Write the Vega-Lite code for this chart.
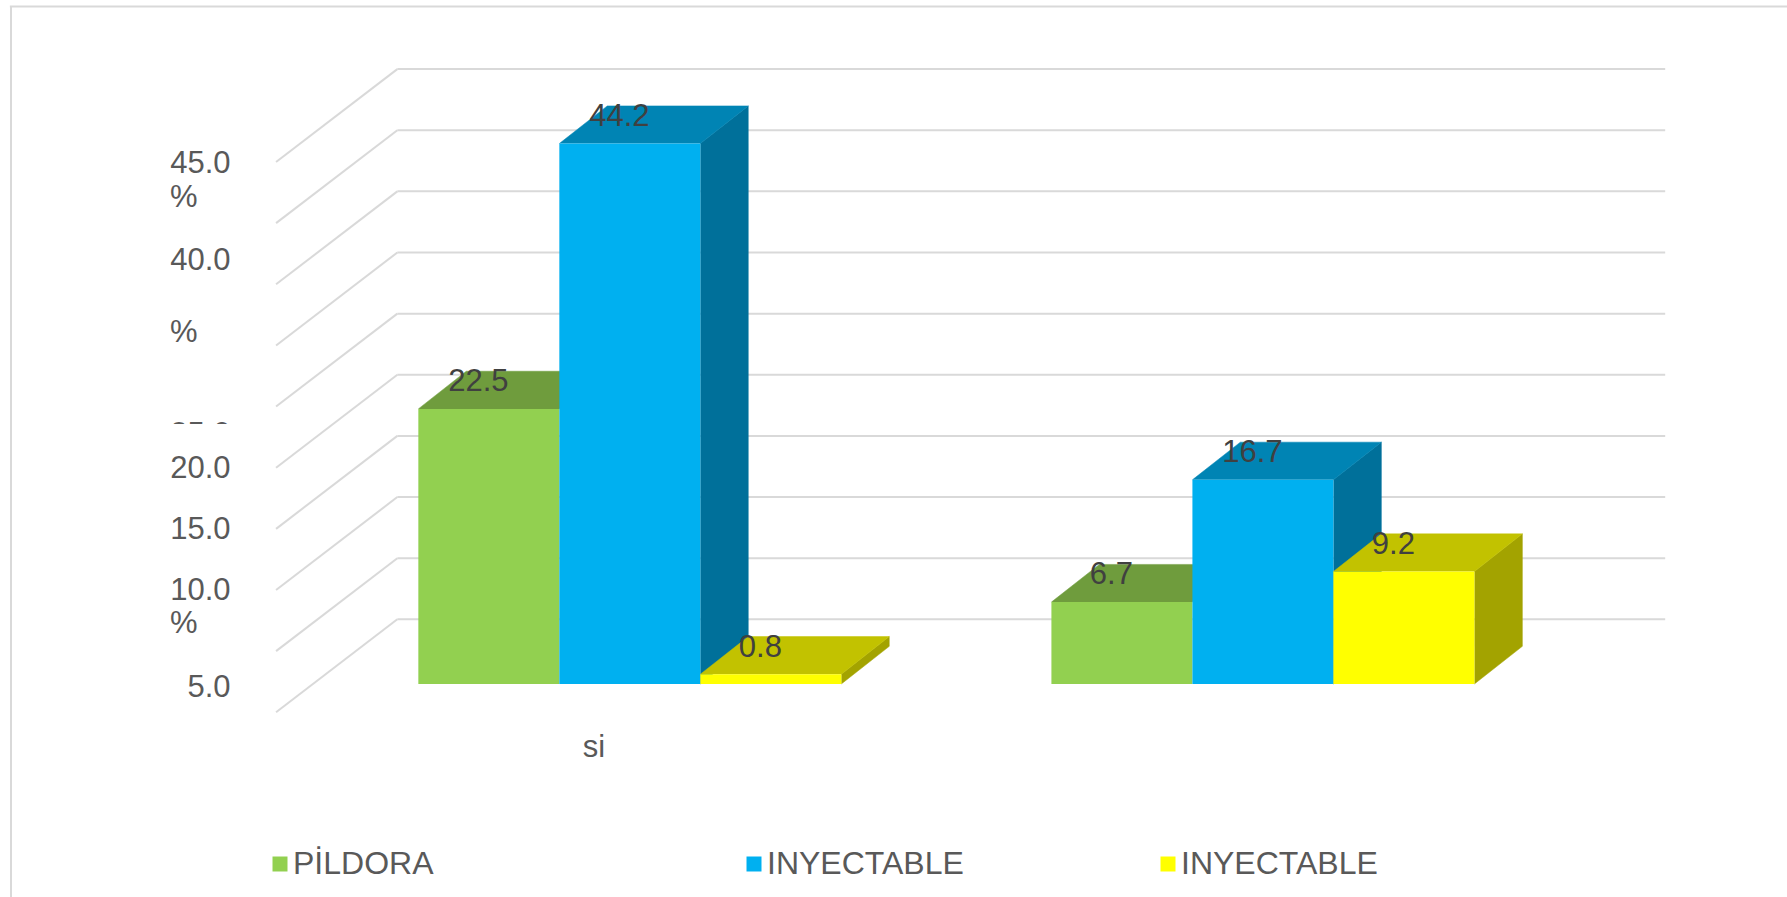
{
  "$schema": "https://vega.github.io/schema/vega-lite/v6.json",
  "width": 1787,
  "height": 897,
  "padding": 0,
  "autosize": {"type": "none"},
  "background": "#FFFFFF",
  "config": {"view": {"stroke": null}, "text": {"font": "Liberation Sans"}},
  "datasets": {
    "bars": [
      {"grupo": 0, "serie": 0, "metodo": "PİLDORA", "pct": 22.5},
      {"grupo": 0, "serie": 1, "metodo": "INYECTABLE", "pct": 44.2},
      {"grupo": 0, "serie": 2, "metodo": "INYECTABLE", "pct": 0.8},
      {"grupo": 1, "serie": 0, "metodo": "PİLDORA", "pct": 6.7},
      {"grupo": 1, "serie": 1, "metodo": "INYECTABLE", "pct": 16.7},
      {"grupo": 1, "serie": 2, "metodo": "INYECTABLE", "pct": 9.2}
    ],
    "levels": [
      {"level": 0}, {"level": 5}, {"level": 10}, {"level": 15}, {"level": 20},
      {"level": 25}, {"level": 30}, {"level": 35}, {"level": 40}, {"level": 45}
    ],
    "axisNumbers": [
      {"label": "45.0", "at": 41.76},
      {"label": "40.0", "at": 33.86},
      {"label": "25.0", "at": 19.63},
      {"label": "20.0", "at": 16.82},
      {"label": "15.0", "at": 11.83},
      {"label": "10.0", "at": 6.87},
      {"label": "5.0", "at": -1.09}
    ],
    "axisPercents": [
      {"label": "%", "at": 39.03},
      {"label": "%", "at": 27.93},
      {"label": "%", "at": 4.15}
    ]
  },
  "data": {"name": "bars"},
  "transform": [
    {"calculate": "datum.grupo * 4.49 + datum.serie", "as": "x0"},
    {"calculate": "datum.x0 + 1", "as": "x1"},
    {"calculate": "datum.x0 + 0.5", "as": "xMid"},
    {"calculate": "[0, 1, 2, 3]", "as": "corner"},
    {"flatten": ["corner"]},
    {"calculate": "[datum.x0, datum.x0 + 0.34, datum.x1 + 0.34, datum.x1][datum.corner]", "as": "topX"},
    {"calculate": "[datum.pct, datum.pct + 3.08, datum.pct + 3.08, datum.pct][datum.corner]", "as": "topY"},
    {"calculate": "[datum.x1, datum.x1 + 0.34, datum.x1 + 0.34, datum.x1][datum.corner]", "as": "sideX"},
    {"calculate": "[0, 3.08, datum.pct + 3.08, datum.pct][datum.corner]", "as": "sideY"}
  ],
  "encoding": {
    "x": {"type": "quantitative", "scale": {"domain": [-2.967, 9.707], "nice": false, "zero": false}, "axis": null},
    "y": {"type": "quantitative", "scale": {"domain": [-17.42, 55.94], "nice": false, "zero": false}, "axis": null}
  },
  "layer": [
    {
      "data": {"values": [{"edge": "frame"}]},
      "mark": {"type": "rule", "color": "#D9D9D9", "strokeWidth": 2},
      "encoding": {
        "x": {"datum": -2.897},
        "x2": {"datum": 9.707},
        "y": {"datum": 55.4}
      }
    },
    {
      "data": {"values": [{"edge": "frame"}]},
      "mark": {"type": "rule", "color": "#D9D9D9", "strokeWidth": 2},
      "encoding": {
        "x": {"datum": -2.889},
        "y": {"datum": 55.4},
        "y2": {"datum": -17.42}
      }
    },
    {
      "data": {"name": "levels"},
      "transform": [
        {"calculate": "datum.level - 2.31", "as": "wallFront"},
        {"calculate": "datum.level + 5.29", "as": "wallBack"}
      ],
      "mark": {"type": "rule", "color": "#D9D9D9", "strokeWidth": 2},
      "encoding": {
        "x": {"datum": -1.009},
        "x2": {"datum": -0.149},
        "y": {"field": "wallFront", "type": "quantitative"},
        "y2": {"field": "wallBack"}
      }
    },
    {
      "data": {"name": "levels"},
      "transform": [{"calculate": "datum.level + 5.29", "as": "wallBack"}],
      "mark": {"type": "rule", "color": "#D9D9D9", "strokeWidth": 2},
      "encoding": {
        "x": {"datum": -0.149},
        "x2": {"datum": 8.843},
        "y": {"field": "wallBack", "type": "quantitative"}
      }
    },
    {
      "data": {"name": "axisNumbers"},
      "mark": {"type": "text", "align": "right", "baseline": "alphabetic", "fontSize": 31, "font": "Liberation Sans", "color": "#595959"},
      "encoding": {
        "x": {"datum": -1.332},
        "y": {"field": "at", "type": "quantitative"},
        "text": {"field": "label"}
      }
    },
    {
      "data": {"values": [{"part": "mask"}]},
      "mark": {"type": "rect", "color": "#FFFFFF"},
      "encoding": {
        "x": {"datum": -1.795},
        "x2": {"datum": -1.293},
        "y": {"datum": 21.26},
        "y2": {"datum": 19.14}
      }
    },
    {
      "data": {"name": "axisPercents"},
      "mark": {"type": "text", "align": "left", "baseline": "alphabetic", "fontSize": 31, "font": "Liberation Sans", "color": "#595959"},
      "encoding": {
        "x": {"datum": -1.761},
        "y": {"field": "at", "type": "quantitative"},
        "text": {"field": "label"}
      }
    },
    {
      "data": {"values": [{"label": "si"}]},
      "mark": {"type": "text", "align": "center", "baseline": "alphabetic", "fontSize": 31, "font": "Liberation Sans", "color": "#595959"},
      "encoding": {
        "x": {"datum": 1.245},
        "y": {"datum": -6},
        "text": {"field": "label"}
      }
    },
    {
      "transform": [{"filter": "datum.serie === 0"}],
      "layer": [
        {
          "mark": {"type": "line", "fill": "#6F9C3D", "stroke": "#6F9C3D", "strokeWidth": 0.5},
          "encoding": {
            "x": {"field": "topX", "type": "quantitative"},
            "y": {"field": "topY", "type": "quantitative"},
            "detail": {"field": "grupo"},
            "order": {"field": "corner"}
          }
        },
        {
          "transform": [{"filter": "datum.corner === 0"}],
          "mark": {"type": "rect"},
          "encoding": {
            "x": {"field": "x0", "type": "quantitative"},
            "x2": {"field": "x1"},
            "y": {"field": "pct", "type": "quantitative"},
            "y2": {"datum": 0},
            "color": {
              "field": "metodo",
              "type": "nominal",
              "scale": {"range": ["#92D050"]},
              "legend": {"orient": "none", "legendX": 264, "legendY": 848, "title": null, "symbolType": "square", "symbolSize": 225, "symbolStrokeWidth": 0, "labelFont": "Liberation Sans", "labelFontSize": 32, "labelColor": "#595959", "labelOffset": -3, "labelLimit": 400}
            }
          }
        }
      ]
    },
    {
      "transform": [{"filter": "datum.serie === 1"}],
      "layer": [
        {
          "mark": {"type": "line", "fill": "#00709A", "stroke": "#00709A", "strokeWidth": 0.5},
          "encoding": {
            "x": {"field": "sideX", "type": "quantitative"},
            "y": {"field": "sideY", "type": "quantitative"},
            "detail": {"field": "grupo"},
            "order": {"field": "corner"}
          }
        },
        {
          "mark": {"type": "line", "fill": "#0084B4", "stroke": "#0084B4", "strokeWidth": 0.5},
          "encoding": {
            "x": {"field": "topX", "type": "quantitative"},
            "y": {"field": "topY", "type": "quantitative"},
            "detail": {"field": "grupo"},
            "order": {"field": "corner"}
          }
        },
        {
          "transform": [{"filter": "datum.corner === 0"}],
          "mark": {"type": "rect"},
          "encoding": {
            "x": {"field": "x0", "type": "quantitative"},
            "x2": {"field": "x1"},
            "y": {"field": "pct", "type": "quantitative"},
            "y2": {"datum": 0},
            "color": {
              "field": "metodo",
              "type": "nominal",
              "scale": {"range": ["#00B0F0"]},
              "legend": {"orient": "none", "legendX": 738, "legendY": 848, "title": null, "symbolType": "square", "symbolSize": 225, "symbolStrokeWidth": 0, "labelFont": "Liberation Sans", "labelFontSize": 32, "labelColor": "#595959", "labelOffset": -3, "labelLimit": 400}
            }
          }
        }
      ]
    },
    {
      "transform": [{"filter": "datum.serie === 2"}],
      "layer": [
        {
          "mark": {"type": "line", "fill": "#A3A300", "stroke": "#A3A300", "strokeWidth": 0.5},
          "encoding": {
            "x": {"field": "sideX", "type": "quantitative"},
            "y": {"field": "sideY", "type": "quantitative"},
            "detail": {"field": "grupo"},
            "order": {"field": "corner"}
          }
        },
        {
          "mark": {"type": "line", "fill": "#C2C200", "stroke": "#C2C200", "strokeWidth": 0.5},
          "encoding": {
            "x": {"field": "topX", "type": "quantitative"},
            "y": {"field": "topY", "type": "quantitative"},
            "detail": {"field": "grupo"},
            "order": {"field": "corner"}
          }
        },
        {
          "transform": [{"filter": "datum.corner === 0"}],
          "mark": {"type": "rect"},
          "encoding": {
            "x": {"field": "x0", "type": "quantitative"},
            "x2": {"field": "x1"},
            "y": {"field": "pct", "type": "quantitative"},
            "y2": {"datum": 0},
            "color": {
              "field": "metodo",
              "type": "nominal",
              "scale": {"range": ["#FFFF00"]},
              "legend": {"orient": "none", "legendX": 1152, "legendY": 848, "title": null, "symbolType": "square", "symbolSize": 225, "symbolStrokeWidth": 0, "labelFont": "Liberation Sans", "labelFontSize": 32, "labelColor": "#595959", "labelOffset": -3, "labelLimit": 400}
            }
          }
        }
      ]
    },
    {
      "transform": [{"filter": "datum.corner === 0"}],
      "mark": {"type": "text", "align": "center", "baseline": "alphabetic", "dx": -10.5, "dy": -17.6, "fontSize": 31, "font": "Liberation Sans", "color": "#404040"},
      "encoding": {
        "x": {"field": "xMid", "type": "quantitative"},
        "y": {"field": "pct", "type": "quantitative"},
        "text": {"field": "pct", "type": "quantitative", "format": ".1f"}
      }
    }
  ],
  "resolve": {"scale": {"color": "independent"}}
}
